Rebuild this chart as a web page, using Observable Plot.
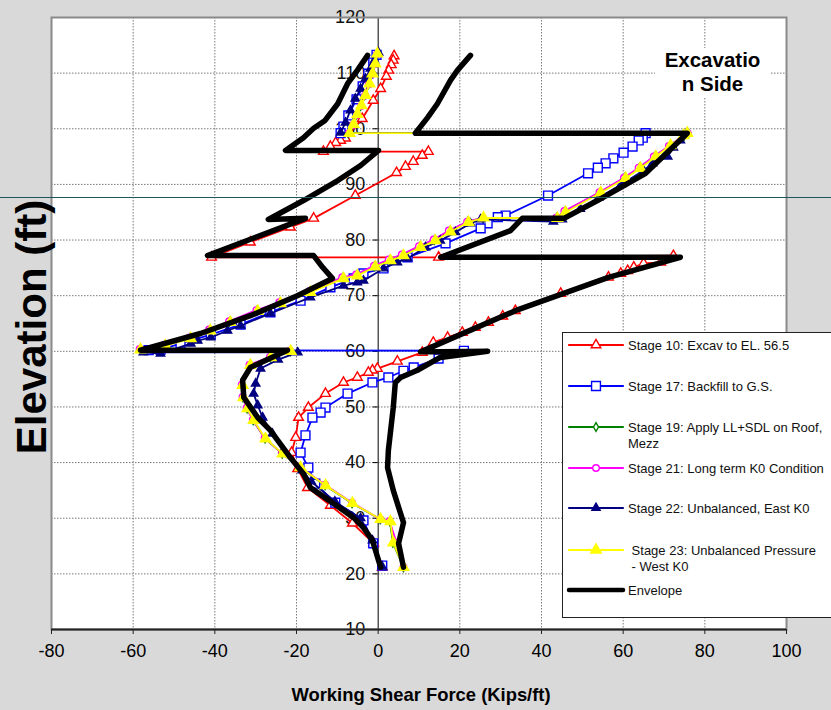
<!DOCTYPE html>
<html><head><meta charset="utf-8">
<script src="https://cdn.jsdelivr.net/npm/d3@7"></script>
<script src="https://cdn.jsdelivr.net/npm/@observablehq/plot@0.6"></script>
<style>
html,body{margin:0;padding:0;background:#d9d9d9;}
#wrap{position:relative;width:831px;height:710px;overflow:hidden;font-family:"Liberation Sans",Arial,sans-serif;background:#d9d9d9;}
#wrap svg{display:block;}
.abs{position:absolute;}
#xtitle{left:0;width:842px;top:684px;text-align:center;font-weight:bold;font-size:18.4px;color:#000;}
#ytitle{left:32px;top:327px;transform:translate(-50%,-50%) rotate(-90deg);white-space:nowrap;font-weight:bold;font-size:42px;color:#000;}
#note{left:655px;top:48px;width:115px;height:49px;background:#fff;text-align:center;font-weight:bold;font-size:20.5px;line-height:24px;color:#000;}
#legend{left:562px;top:332px;width:290px;height:284px;background:#fff;border:1px solid #222;}
#teal{left:0;top:197px;width:831px;height:1px;background:#1c5858;}
</style></head><body>
<div id="wrap"></div>
<script>
// ---- axis ticks ----
const xTicks = [-80, -60, -40, -20, 0, 20, 40, 60, 80, 100];
const yTicks = [10, 20, 30, 40, 50, 60, 70, 80, 90, 100, 110, 120];
const xGrid = [-60, -40, -20, 20, 40, 60, 80];
const yGrid = [20, 30, 40, 50, 60, 70, 80, 90, 100, 110];

// ---- series: [shear (kips/ft), elevation (ft)] ----
const stage10 = [[3.9,113.1],[3.7,112.3],[3.2,111.5],[2.6,110.5],[2.0,109.4],[0.6,107.2],[-1.2,105.1],[-3.9,101.8],[-8.0,98.3],[-9.2,97.9],[-10.4,97.5],[-11.7,96.8],[-13.4,95.9],[12.3,95.9],[10.8,95.2],[8.6,94.1],[6.7,93.2],[4.5,92.1],[-5.6,88.0],[-15.8,83.9],[-21.5,82.3],[-31.3,79.6],[-40.8,76.9],[14.8,76.9],[72.3,77.2],[69.2,76.0],[65.0,75.8],[62.6,75.1],[61.1,74.5],[59.4,74.0],[56.4,73.3],[44.7,70.4],[33.6,67.3],[30.5,66.3],[27.0,65.2],[23.8,64.3],[20.6,63.4],[17.0,62.5],[13.5,61.6],[10.8,59.8],[4.7,58.2],[-0.2,56.9],[-1.4,56.6],[-2.4,56.2],[-5.1,55.3],[-8.5,54.4],[-12.9,52.4],[-17.1,49.9],[-19.5,48.1],[-20.2,44.5],[-21.2,41.8],[-19.7,38.9],[-17.3,35.5],[-11.7,32.3],[-6.3,29.1],[-1.1,25.5],[1.0,21.2]];
const stage17 = [[-0.4,113.3],[-1.2,111.9],[-2.4,109.9],[-3.8,107.6],[-5.3,105.3],[-7.3,102.4],[-8.5,100.4],[-9.2,99.2],[65.5,99.2],[64.8,98.4],[63.8,97.9],[62.3,96.8],[60.1,95.7],[57.6,94.7],[55.7,93.8],[53.8,93.0],[51.4,92.0],[41.6,88.0],[31.2,84.4],[29.3,84.1],[26.8,83.0],[25.1,82.1],[16.5,79.4],[7.2,76.9],[1.3,74.9],[-3.6,74.0],[-6.0,73.1],[-11.7,71.5],[-19.0,69.1],[-26.4,67.0],[-33.7,64.8],[-41.0,63.0],[-48.4,61.4],[-53.3,60.3],[-56.2,60.2],[21.0,60.1],[14.8,58.7],[8.7,57.1],[6.2,56.5],[2.5,55.3],[-1.4,54.4],[-7.5,52.4],[-12.9,49.9],[-14.1,49.0],[-16.1,48.1],[-17.8,44.9],[-19.0,41.8],[-17.1,39.1],[-15.4,36.2],[-10.5,32.8],[-3.6,29.6],[-1.2,25.5],[1.0,21.5]];
const stage19 = [[-0.3,113.4],[-1.0,111.6],[-1.7,109.8],[-2.4,108.0],[-3.3,106.0],[-4.3,104.1],[-5.3,102.5],[-6.3,100.7],[-7.3,99.2],[76.0,99.2],[74.9,98.7],[71.4,96.9],[67.7,95.0],[64.0,93.0],[60.4,91.2],[54.4,88.6],[45.8,85.2],[43.7,84.0],[25.7,84.0],[21.9,83.3],[17.5,81.6],[13.8,80.0],[10.2,78.8],[6.0,77.3],[2.8,76.4],[-0.9,75.3],[-5.3,73.7],[-8.7,73.2],[-16.8,70.7],[-24.1,68.7],[-29.7,67.3],[-36.4,65.3],[-41.3,63.8],[-46.1,62.4],[-52.3,61.1],[-58.3,60.3],[-21.5,60.0],[-26.4,58.9],[-31.4,57.5],[-33.3,53.9],[-33.1,51.7],[-32.1,49.7],[-30.6,47.6],[-27.7,44.3],[-23.5,41.6],[-19.1,39.1],[-13.0,35.9],[-6.4,32.7],[0.5,29.8],[2.9,29.4],[3.6,25.6],[6.2,21.2]];
const stage21 = [[-0.3,113.4],[-0.9,111.6],[-1.6,109.8],[-2.3,108.0],[-3.2,106.0],[-4.2,104.1],[-5.2,102.5],[-6.2,100.7],[-7.2,99.2],[75.8,99.2],[74.6,98.7],[71.2,96.9],[67.5,95.0],[63.8,93.0],[60.2,91.2],[54.2,88.6],[45.6,85.2],[43.6,84.0],[25.6,84.0],[21.8,83.3],[17.3,81.7],[13.6,80.1],[10.0,78.9],[5.8,77.4],[2.6,76.5],[-1.0,75.4],[-5.4,73.8],[-8.8,73.3],[-16.9,70.8],[-24.2,68.8],[-29.8,67.4],[-36.5,65.4],[-41.4,63.9],[-46.2,62.5],[-52.4,61.2],[-58.4,60.4],[-21.6,60.1],[-26.5,59.0],[-31.5,57.6],[-33.4,54.0],[-33.2,51.8],[-32.2,49.8],[-30.7,47.7],[-27.8,44.4],[-23.6,41.7],[-19.2,39.2],[-13.0,36.0],[-6.4,32.8],[0.5,29.8],[2.8,29.5],[4.5,25.6],[6.2,21.2]];
const stage22 = [[0.1,113.7],[-0.9,112.3],[-1.9,110.8],[-3.1,109.0],[-4.3,107.2],[-5.6,105.4],[-6.8,103.3],[-8.0,101.1],[-9.2,99.3],[75.5,99.2],[74.0,97.9],[72.3,96.6],[70.9,95.0],[67.2,93.8],[65.0,92.5],[59.5,90.0],[54.0,87.6],[49.5,85.6],[45.1,83.7],[42.9,83.3],[25.1,83.7],[22.6,83.0],[18.9,81.4],[15.2,79.9],[11.6,78.7],[7.2,76.7],[4.7,76.0],[1.3,74.9],[-3.6,72.7],[-5.1,72.4],[-8.5,71.8],[-16.6,69.7],[-26.4,66.8],[-33.7,64.6],[-36.9,63.7],[-41.0,62.5],[-44.2,61.9],[-45.9,61.4],[-53.3,59.6],[-57.5,59.8],[-19.7,59.8],[-24.5,58.5],[-28.8,56.9],[-30.0,54.2],[-30.5,52.4],[-29.5,50.3],[-28.3,48.1],[-25.9,45.2],[-23.2,42.2],[-18.6,38.6],[-16.4,36.6],[-10.6,33.0],[-4.3,30.0],[-1.4,26.0],[1.0,21.3]];
const stage23 = [[-0.2,113.5],[-0.7,111.7],[-1.4,109.9],[-2.1,108.1],[-3.1,106.0],[-4.1,104.2],[-5.1,102.6],[-6.0,100.8],[-7.0,99.2],[75.7,99.2],[74.8,98.8],[71.6,97.0],[68.0,95.0],[64.2,92.9],[60.6,91.1],[54.5,88.5],[45.9,85.0],[43.9,83.9],[25.8,84.0],[22.1,83.2],[17.7,81.5],[14.0,79.9],[10.4,78.7],[6.2,77.2],[3.0,76.3],[-0.7,75.2],[-5.1,73.6],[-8.5,73.1],[-16.6,70.6],[-23.9,68.6],[-29.5,67.2],[-36.2,65.2],[-41.1,63.7],[-45.9,62.3],[-52.1,61.0],[-58.2,60.3],[-21.4,60.0],[-26.3,58.9],[-31.3,57.5],[-33.2,53.9],[-33.0,51.7],[-32.0,49.7],[-30.5,47.6],[-27.6,44.3],[-23.4,41.6],[-19.0,39.1],[-12.9,35.9],[-6.3,32.7],[0.6,29.8],[3.0,29.4],[3.7,25.6],[6.2,21.2]];
const envelopeMin = [[-2.6,113.2],[-5.1,110.5],[-7.5,108.1],[-9.9,104.5],[-13.0,101.5],[-15.8,100.1],[-18.3,98.4],[-22.7,96.1],[0.1,96.1],[-4.3,93.4],[-9.9,90.7],[-18.3,87.1],[-26.9,83.7],[-17.8,83.9],[-41.8,77.2],[-15.8,77.2],[-13.6,75.1],[-11.2,73.1],[-19.8,70.0],[-31.3,66.4],[-43.5,63.2],[-58.2,60.2],[-22.2,60.2],[-31.3,57.1],[-33.2,54.8],[-32.9,51.7],[-29.5,48.1],[-26.4,45.8],[-21.5,40.9],[-18.3,38.0],[-16.6,35.5],[-11.0,32.7],[-6.0,30.1],[-3.6,28.3],[-1.4,26.0],[0.6,21.2]];
const envelopeMax = [[22.6,113.2],[19.4,110.5],[17.7,108.7],[14.5,104.5],[12.1,102.0],[9.1,99.2],[75.7,99.2],[65.5,92.0],[53.7,87.1],[45.5,83.9],[35.3,83.9],[32.4,81.7],[15.3,76.9],[74.0,76.9],[56.4,73.3],[33.6,67.3],[10.4,59.9],[26.8,60.0],[15.2,58.9],[9.6,56.6],[5.5,55.3],[4.2,54.4],[3.7,49.9],[2.5,42.2],[2.3,39.1],[3.7,35.0],[6.2,29.2],[5.0,25.5],[6.2,21.2]];

// ---- legend / style metadata ----
const seriesLabels = ["Stage 10: Excav to EL. 56.5", "Stage 17: Backfill to G.S.", "Stage 19: Apply LL+SDL on Roof,|Mezz", "Stage 21: Long term K0 Condition", "Stage 22: Unbalanced, East K0", " Stage 23: Unbalanced Pressure| - West K0", "Envelope"];
const seriesColors = ["#ff0000", "#0000ff", "#008000", "#ff00ff", "#000080", "#ffff00", "#000000"];
const seriesSymbols = ["triangle", "square", "diamond", "circle", "triangle", "triangle", null];
const seriesFills = ["white", "white", "white", "white", "#000080", "#ffff00", null];
const seriesR = [3.6, 5.0, 2.6, 3.3, 3.1, 3.9, 0];
const seriesData = [stage10, stage17, stage19, stage21, stage22, stage23];

const marks = [
  Plot.frame({fill: "white", stroke: null}),
  Plot.ruleX(xGrid, {stroke: "#7a7a7a", strokeWidth: 1, strokeDasharray: "1.5,1.5"}),
  Plot.ruleY(yGrid, {stroke: "#7a7a7a", strokeWidth: 1, strokeDasharray: "1.5,1.5"}),
  Plot.ruleX([0], {stroke: "black", strokeWidth: 1}),
  Plot.ruleY(yTicks, {y: d => d, x1: -1.2, x2: 0, stroke: "black", strokeWidth: 1}),
  Plot.text(yTicks, {x: 0, y: d => d, text: d => String(d), dx: -13, textAnchor: "end", fontSize: 18, fill: "#111"})
];
seriesData.forEach((s, i) => {
  marks.push(Plot.line(s, {x: d => d[0], y: d => d[1], stroke: seriesColors[i], strokeWidth: 1.8, curve: "linear"}));
  marks.push(Plot.dot(s, {x: d => d[0], y: d => d[1], symbol: seriesSymbols[i], r: seriesR[i], stroke: seriesColors[i], fill: seriesFills[i], strokeWidth: 1.4}));
});
marks.push(Plot.line(envelopeMin, {x: d => d[0], y: d => d[1], stroke: "black", strokeWidth: 5.5, strokeLinejoin: "round", strokeLinecap: "round"}));
marks.push(Plot.line(envelopeMax, {x: d => d[0], y: d => d[1], stroke: "black", strokeWidth: 5.5, strokeLinejoin: "round", strokeLinecap: "round"}));
marks.push(Plot.frame({stroke: "#8a8a8a", strokeWidth: 2}));
marks.push(Plot.ruleY([10], {stroke: "#222", strokeWidth: 2}));
marks.push(Plot.axisX({ticks: xTicks, tickFormat: d => String(d), tickSize: 5, tickPadding: 10, fontSize: 18, label: null, stroke: "#222"}));

const chart = Plot.plot({
  width: 831, height: 710,
  marginLeft: 51, marginRight: 45, marginTop: 17, marginBottom: 81,
  x: {domain: [-80, 100]},
  y: {domain: [10, 120], axis: null},
  style: {background: "transparent", fontFamily: "'Liberation Sans', Arial, sans-serif", color: "black", overflow: "visible"},
  marks
});
const wrap = document.getElementById("wrap");
wrap.appendChild(chart);

function addDiv(id, cls, html) {
  const d = document.createElement("div");
  d.id = id; d.className = cls; d.innerHTML = html; wrap.appendChild(d); return d;
}
addDiv("note", "abs", "Excavatio<br>n Side");
addDiv("xtitle", "abs", "Working Shear Force (Kips/ft)");
addDiv("ytitle", "abs", "Elevation (ft)");

// legend
const legendY = [12, 53, 94, 135, 175, 217, 257];
const lg = addDiv("legend", "abs", "");
const svg = d3.select(lg).append("svg").attr("width", 290).attr("height", 284);
const sym = {triangle: d3.symbolTriangle, square: d3.symbolSquare, diamond: d3.symbolDiamond, circle: d3.symbolCircle};
seriesLabels.forEach((lab, i) => {
  const g = svg.append("g").attr("transform", `translate(0,${legendY[i]})`);
  g.append("line").attr("x1", 6).attr("x2", 60).attr("y1", 0).attr("y2", 0)
    .attr("stroke", seriesColors[i]).attr("stroke-width", i === 6 ? 4.5 : 2.2).attr("stroke-linecap", "round");
  if (seriesSymbols[i]) {
    g.append("path").attr("transform", "translate(33,0)")
      .attr("d", d3.symbol(sym[seriesSymbols[i]], Math.PI * seriesR[i] * seriesR[i])())
      .attr("fill", seriesFills[i]).attr("stroke", seriesColors[i]).attr("stroke-width", 1.4);
  }
  lab.split("|").forEach((t, j) => {
    g.append("text").attr("x", 65).attr("y", j * 16).attr("dy", "0.35em")
      .attr("font-size", 13).attr("font-family", "'Liberation Sans', Arial, sans-serif")
      .attr("fill", "#111").attr("xml:space", "preserve").style("white-space", "pre").text(t);
  });
});
addDiv("teal", "abs", "");
</script>
</body></html>
